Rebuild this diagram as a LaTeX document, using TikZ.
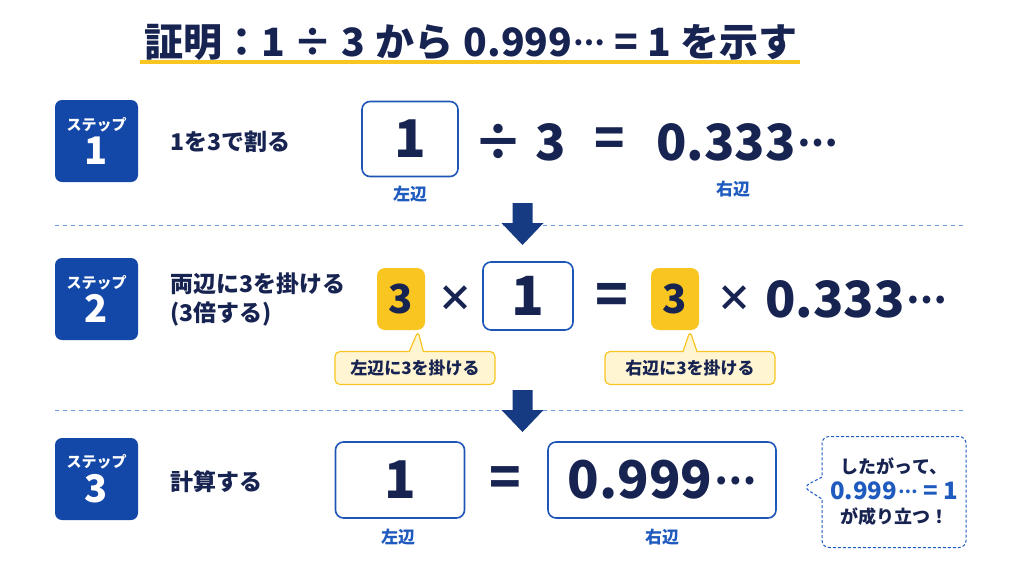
\documentclass[tikz,border=0pt]{standalone}
\usepackage{fontspec}
\setmainfont{Noto Sans CJK JP}
\usetikzlibrary{positioning,shapes.callouts}

\definecolor{navy}{HTML}{172350}
\definecolor{stepblue}{HTML}{1448A8}
\definecolor{boxblue}{HTML}{1E55B8}
\definecolor{arrowblue}{HTML}{173B82}
\definecolor{sepblue}{HTML}{6C9CE2}
\definecolor{hiyellow}{HTML}{F8C521}
\definecolor{hilight}{HTML}{FFF5D2}
\definecolor{labelblue}{HTML}{1F5BBE}

\newcommand{\fs}[1]{\fontsize{#1}{#1}\selectfont}
\newcommand{\mdots}{\kern.04em\raisebox{.27em}{\scalebox{.72}{…}}}

\begin{document}
\begin{tikzpicture}[x=1pt,y=-1pt,
    stepbadge/.style={rounded corners=7pt,fill=stepblue,text=white,minimum width=83pt,minimum height=82pt,inner sep=0pt,align=center},
    desc/.style={anchor=west,text=navy,font=\fs{23}\bfseries,align=left,inner sep=0pt},
    sidebox/.style={draw=boxblue,line width=1.6pt,rounded corners=8pt,fill=white,text=navy,font=\fs{52}\bfseries,inner sep=0pt},
    mathtxt/.style={text=navy,font=\fs{50}\bfseries,inner sep=0pt},
    threebox/.style={fill=hiyellow,rounded corners=8pt,text=navy,font=\fs{40}\bfseries,minimum width=48pt,minimum height=62pt,inner sep=0pt},
    sidelabel/.style={text=labelblue,font=\fs{17}\bfseries,inner sep=0pt},
    tipbox/.style={rectangle callout,draw=hiyellow,line width=1.2pt,fill=hilight,rounded corners=5pt,text=navy,font=\fs{17}\bfseries,minimum width=160pt,minimum height=33pt,callout pointer width=14pt},
    sepline/.style={sepblue,line width=1pt,dash pattern=on 4pt off 4pt},
    downarrow/.style={fill=arrowblue}]
    \useasboundingbox (0,0) rectangle (1024,576);
    \fill[white] (0,0) rectangle (1024,576);

    % title
    \node[text=navy,font=\fs{39}\bfseries,inner sep=0pt] (title) at (471,42) {証明：1\hspace{9pt}÷\hspace{9pt}3\hspace{10pt}から\hspace{10pt}0.999\mdots\hspace{9pt}=\hspace{9pt}1\hspace{10pt}を示す};
    \draw[hiyellow,line width=4pt] (140,62) -- (800,62);

    % step badges
    \foreach \n/\y in {1/141,2/299,3/479}
    \node[stepbadge] (step\n) at (96.5,\y) {{\fs{15}\bfseries ステップ}\\[4pt]{\fs{38}\bfseries \n}};

    % separators and arrows
    \draw[sepline] (55,225) -- (965,225);
    \draw[sepline] (55,410) -- (965,410);
    \coordinate (down1) at (522.5,203);
    \coordinate (down2) at (522.5,390);
    \foreach \c in {down1,down2}
    \fill[downarrow,shift={(\c)}] (-10,0) -- (10,0) -- (10,20) -- (21,20) -- (0,42) -- (-21,20) -- (-10,20) -- cycle;

    % step 1
    \begin{scope}
	\node[desc] (desc1) at (170,142) {1を3で割る};
	\node[sidebox,minimum width=96pt,minimum height=75pt] (lhs1) at (410,139) {1};
	\node[mathtxt] (div1) at (520,142) {÷\hspace{12pt}3};
	\node[mathtxt] (eq1) at (610,142) {=};
	\node[mathtxt] (rhs1) at (747,142) {0.333\mdots};
	\node[sidelabel] (lab1l) at (410,194) {左辺};
	\node[sidelabel] (lab1r) at (733,189) {右辺};
    \end{scope}

    % step 2
    \begin{scope}
	\node[desc] (desc2) at (170,300) {両辺に3を掛ける\\[6pt](3倍する)};
	\node[threebox] (three2l) at (401,299) {3};
	\node[mathtxt,font=\fs{36}\bfseries] (times2l) at (455,299) {×};
	\node[sidebox,font=\fs{54}\bfseries,minimum width=90pt,minimum height=68pt] (lhs2) at (528,296) {1};
	\node[mathtxt,font=\fs{54}\bfseries] (eq2) at (612,299) {=};
	\node[threebox] (three2r) at (675,299) {3};
	\node[mathtxt,font=\fs{36}\bfseries] (times2r) at (734,299) {×};
	\node[mathtxt] (rhs2) at (856,299) {0.333\mdots};
	\node[tipbox,callout absolute pointer={(418,331)}] (tip2l) at (415,368) {左辺に3を掛ける};
	\node[tipbox,minimum width=170pt,callout absolute pointer={(690,331)}] (tip2r) at (690,368) {右辺に3を掛ける};
    \end{scope}

    % step 3
    \begin{scope}
	\node[desc] (desc3) at (170,482) {計算する};
	\node[sidebox,minimum width=129pt,minimum height=76pt] (lhs3) at (400,480) {1};
	\node[mathtxt,font=\fs{52}\bfseries] (eq3) at (505,482) {=};
	\node[sidebox,minimum width=228pt,minimum height=76pt] (rhs3) at (662,480) {0.999\mdots};
	\node[sidelabel] (lab3l) at (398,537) {左辺};
	\node[sidelabel] (lab3r) at (662,537) {右辺};
	\node[rectangle callout,draw=labelblue,line width=1pt,dash pattern=on 3pt off 2pt,fill=white,rounded corners=7pt,
	  minimum width=144pt,minimum height=111pt,callout absolute pointer={(803,487)},callout pointer width=22pt,
	  align=center,text=navy,font=\fs{18}\bfseries] (result) at (894,492)
	  {したがって、\\[6pt]{\color{labelblue}\fs{24}0.999\mdots\ = 1}\\[6pt]が成り立つ！};
    \end{scope}
\end{tikzpicture}
\end{document}
